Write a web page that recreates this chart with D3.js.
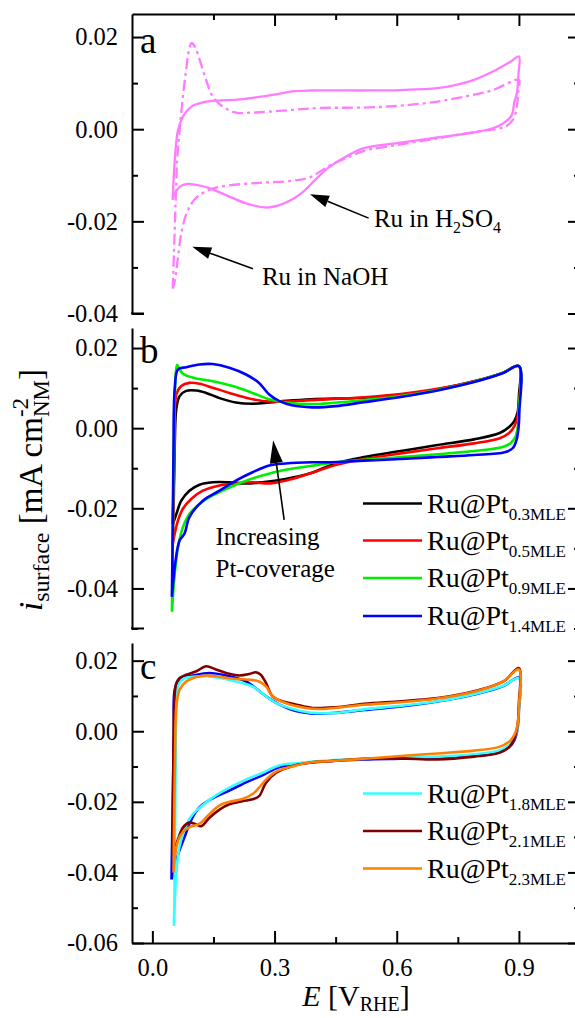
<!DOCTYPE html>
<html>
<head>
<meta charset="utf-8">
<script src="https://cdn.jsdelivr.net/npm/d3@7"></script>
<style>
  body { margin: 0; background: #fff; }
  svg { display: block; }
  .axis path, .axis line { stroke: #000; stroke-width: 2; }
</style>
</head>
<body>
<svg id="chart" width="575" height="1018"></svg>
<script>
// ---------- tick values ----------
const eMajor = [0, 0.3, 0.6, 0.9];
const eMinor = [0.15, 0.45, 0.75];
const eTopMajor = [0.3, 0.6, 0.9];
const iMajorA = [-0.04, -0.02, 0, 0.02];
const iMinorA = [-0.03, -0.01, 0.01];
const iMajorB = [-0.04, -0.02, 0, 0.02];
const iMinorB = [-0.05, -0.03, -0.01, 0.01];
const iMajorC = [-0.06, -0.04, -0.02, 0, 0.02];
const iMinorC = [-0.05, -0.03, -0.01, 0.01];

// ---------- (a) Ru CVs, [E / V_RHE, i / mA cm^-2] ----------
const ruH2SO4 = [
  [0.05,-0.0154],[0.055,-0.0067],[0.063,-0.0002],[0.075,0.0027],[0.096,0.0049],[0.124,0.0058],
  [0.157,0.0062],[0.209,0.0064],[0.254,0.0069],[0.299,0.0075],[0.344,0.0082],[0.39,0.0084],
  [0.52,0.0084],[0.61,0.0085],[0.70,0.0089],[0.746,0.0096],[0.79,0.0107],[0.836,0.0125],
  [0.88,0.0147],[0.9,0.0158],
  [0.899,0.012],[0.895,0.0078],[0.889,0.0060],[0.882,0.0030],[0.862,0.0013],[0.836,0.0002],
  [0.79,-0.0007],[0.70,-0.0018],[0.61,-0.0029],[0.52,-0.0041],[0.478,-0.0058],[0.433,-0.0083],
  [0.40,-0.0110],[0.37,-0.0136],[0.344,-0.0152],[0.308,-0.0166],[0.279,-0.0170],[0.23,-0.0161],
  [0.181,-0.0143],[0.14,-0.0128],[0.108,-0.0121],[0.083,-0.0119],[0.067,-0.0125],
  [0.055,-0.0139],[0.05,-0.0154]
];
const ruNaOH = [
  [0.05,-0.0346],[0.053,-0.0270],[0.057,-0.0161],[0.061,-0.0067],[0.067,-0.0002],[0.075,0.0071],
  [0.083,0.0129],[0.09,0.0172],[0.096,0.0187],[0.104,0.0180],[0.116,0.0151],[0.132,0.0107],
  [0.148,0.0071],[0.173,0.0049],[0.205,0.0036],[0.246,0.0036],[0.287,0.0038],[0.344,0.0042],
  [0.41,0.0046],[0.52,0.0047],[0.61,0.0051],[0.70,0.0060],[0.79,0.0075],[0.836,0.0085],[0.9,0.0107],
  [0.899,0.0085],[0.897,0.0064],[0.892,0.0035],[0.885,0.0020],[0.871,0.0008],[0.853,0.0002],
  [0.79,-0.0006],[0.70,-0.0020],[0.61,-0.0033],[0.52,-0.0047],[0.478,-0.0062],[0.433,-0.0080],
  [0.388,-0.0104],[0.344,-0.0112],[0.254,-0.0117],[0.165,-0.0125],[0.129,-0.0136],[0.102,-0.0154],
  [0.084,-0.0183],[0.071,-0.0226],[0.062,-0.0284],[0.055,-0.0330],[0.05,-0.0346]
];

// ---------- (b) Ru@Pt, low coverage ----------
const pt03 = [
  [0.05,-0.024],[0.052,-0.016],[0.054,-0.008],[0.055,-0.003],[0.059,0.005],[0.067,0.0080],
  [0.083,0.0093],[0.108,0.0094],[0.132,0.0088],[0.165,0.0075],[0.205,0.0064],[0.246,0.0061],
  [0.287,0.0064],[0.33,0.0068],[0.39,0.0072],[0.52,0.0076],[0.61,0.0083],[0.70,0.0097],
  [0.79,0.0117],[0.86,0.0138],[0.9,0.0155],
  [0.9,0.008],[0.897,0.004],[0.889,0.0018],[0.876,0.0003],[0.853,-0.0012],[0.79,-0.0028],
  [0.70,-0.0042],[0.61,-0.0057],[0.52,-0.0072],[0.45,-0.0088],[0.384,-0.0114],[0.327,-0.0127],
  [0.27,-0.0135],[0.23,-0.0138],[0.189,-0.0135],[0.148,-0.0135],[0.116,-0.0141],[0.091,-0.0156],
  [0.071,-0.0181],[0.059,-0.0214],[0.05,-0.024]
];
const pt05 = [
  [0.05,-0.029],[0.053,-0.016],[0.055,-0.004],[0.059,0.0084],[0.071,0.0105],[0.091,0.0113],
  [0.116,0.0111],[0.148,0.0101],[0.189,0.0088],[0.23,0.0076],[0.27,0.0068],[0.311,0.0066],
  [0.39,0.0070],[0.52,0.0077],[0.61,0.0085],[0.70,0.0098],[0.79,0.0117],[0.86,0.0138],[0.9,0.0155],
  [0.9,0.006],[0.897,0.003],[0.889,0.0005],[0.876,-0.0012],[0.853,-0.0025],[0.79,-0.0038],
  [0.70,-0.0050],[0.61,-0.0063],[0.52,-0.0077],[0.45,-0.0092],[0.384,-0.0114],[0.327,-0.0131],
  [0.287,-0.0138],[0.246,-0.0135],[0.205,-0.0138],[0.165,-0.0143],[0.124,-0.0156],[0.096,-0.0176],
  [0.075,-0.0201],[0.063,-0.023],[0.055,-0.0263],[0.05,-0.029]
];
const pt09 = [
  [0.048,-0.0458],[0.05,-0.030],[0.052,-0.010],[0.055,0.008],[0.061,0.0158],[0.066,0.0148],
  [0.075,0.0136],[0.10,0.0126],[0.148,0.0117],[0.197,0.0105],[0.246,0.0088],[0.287,0.0072],
  [0.327,0.0064],[0.392,0.0060],[0.52,0.0070],[0.61,0.0080],[0.70,0.0095],[0.79,0.0116],
  [0.86,0.0138],[0.9,0.0155],
  [0.9,0.005],[0.898,0.001],[0.892,-0.002],[0.88,-0.0037],[0.86,-0.0047],[0.79,-0.0057],
  [0.70,-0.0065],[0.61,-0.0072],[0.52,-0.0079],[0.43,-0.0088],[0.392,-0.0094],[0.327,-0.0104],
  [0.27,-0.0118],[0.23,-0.0131],[0.189,-0.0148],[0.148,-0.0168],[0.116,-0.0189],[0.091,-0.0214],
  [0.075,-0.0247],[0.063,-0.0297],[0.055,-0.0363],[0.048,-0.0458]
];
const pt14 = [
  [0.048,-0.0421],[0.05,-0.025],[0.052,-0.005],[0.055,0.010],[0.063,0.0147],[0.083,0.0152],
  [0.116,0.0159],[0.148,0.0160],[0.189,0.0151],[0.23,0.0134],[0.262,0.0113],[0.287,0.0084],
  [0.311,0.0068],[0.343,0.0057],[0.392,0.0052],[0.45,0.0055],[0.52,0.0065],[0.61,0.0078],
  [0.70,0.0094],[0.79,0.0115],[0.86,0.0137],[0.9,0.0155],
  [0.901,0.004],[0.899,0.0],[0.894,-0.003],[0.885,-0.0050],[0.865,-0.0060],[0.79,-0.0067],
  [0.70,-0.0072],[0.61,-0.0077],[0.52,-0.0081],[0.43,-0.0085],[0.392,-0.0085],[0.327,-0.0088],
  [0.287,-0.0093],[0.246,-0.0110],[0.205,-0.0131],[0.165,-0.0156],[0.124,-0.0181],[0.091,-0.0222],
  [0.079,-0.0263],[0.067,-0.0280],[0.057,-0.0330],[0.048,-0.0421]
];

// ---------- (c) Ru@Pt, high coverage ----------
const pt14c = [
  [0.047,-0.042],[0.05,-0.020],[0.053,0.0],[0.055,0.0118],[0.067,0.0148],[0.10,0.0158],
  [0.14,0.0165],[0.181,0.0158],[0.23,0.0141],[0.279,0.0099],[0.311,0.0076],[0.352,0.0057],
  [0.393,0.0050],[0.45,0.0052],[0.52,0.0060],[0.61,0.0070],[0.70,0.0084],[0.79,0.0104],
  [0.86,0.0127],[0.9,0.0152],
  [0.9,0.006],[0.897,0.001],[0.889,-0.0025],[0.876,-0.0045],[0.85,-0.0060],[0.79,-0.0070],
  [0.70,-0.0076],[0.61,-0.0078],[0.52,-0.0080],[0.43,-0.0085],[0.36,-0.0093],[0.311,-0.0102],
  [0.27,-0.0125],[0.23,-0.0145],[0.189,-0.0168],[0.148,-0.0190],[0.116,-0.0215],[0.096,-0.0250],
  [0.079,-0.0300],[0.063,-0.0350],[0.047,-0.042]
];
const pt18 = [
  [0.053,-0.0552],[0.055,-0.040],[0.057,-0.0118],[0.059,0.0071],[0.063,0.0127],[0.075,0.0148],
  [0.10,0.0154],[0.132,0.0156],[0.165,0.0151],[0.205,0.0141],[0.246,0.0127],[0.279,0.0099],
  [0.311,0.0076],[0.352,0.0061],[0.393,0.0052],[0.45,0.0052],[0.52,0.0062],[0.61,0.0072],
  [0.70,0.0085],[0.79,0.0105],[0.86,0.0128],[0.9,0.0150],
  [0.9,0.006],[0.897,0.001],[0.889,-0.002],[0.876,-0.004],[0.85,-0.0055],[0.79,-0.0065],
  [0.70,-0.0072],[0.61,-0.0075],[0.52,-0.0078],[0.43,-0.0083],[0.36,-0.0090],[0.311,-0.0097],
  [0.27,-0.0118],[0.23,-0.0137],[0.189,-0.0160],[0.148,-0.0188],[0.116,-0.0217],[0.096,-0.0240],
  [0.079,-0.0278],[0.067,-0.0325],[0.059,-0.0400],[0.053,-0.0552]
];
const pt21 = [
  [0.05,-0.035],[0.051,-0.015],[0.052,-0.002],[0.054,0.009],[0.059,0.0137],[0.067,0.0151],
  [0.083,0.0160],[0.108,0.0170],[0.132,0.0184],[0.156,0.0175],[0.181,0.0165],[0.213,0.0158],
  [0.238,0.0162],[0.254,0.0167],[0.266,0.0160],[0.279,0.0137],[0.295,0.0099],[0.319,0.0085],
  [0.352,0.0076],[0.393,0.0066],[0.45,0.0068],[0.52,0.0078],[0.61,0.0085],[0.70,0.0094],
  [0.79,0.0113],[0.862,0.0141],[0.9,0.0179],
  [0.9,0.008],[0.897,0.002],[0.889,-0.002],[0.876,-0.0045],[0.85,-0.0062],[0.79,-0.0072],
  [0.70,-0.0080],[0.61,-0.0077],[0.52,-0.0078],[0.433,-0.0085],[0.392,-0.0088],[0.343,-0.0099],
  [0.303,-0.0118],[0.279,-0.0146],[0.262,-0.0184],[0.246,-0.0193],[0.221,-0.0198],[0.189,-0.0207],
  [0.165,-0.0222],[0.14,-0.0245],[0.12,-0.0269],[0.108,-0.0264],[0.091,-0.0259],[0.075,-0.0273],
  [0.063,-0.0306],[0.055,-0.0335],[0.05,-0.035]
];
const pt23 = [
  [0.052,-0.040],[0.054,-0.020],[0.056,-0.004],[0.059,0.0071],[0.067,0.0118],[0.083,0.0141],
  [0.108,0.0154],[0.132,0.0158],[0.165,0.0154],[0.205,0.0148],[0.238,0.0146],[0.262,0.0141],
  [0.279,0.0127],[0.295,0.0099],[0.327,0.0080],[0.376,0.0066],[0.41,0.0063],[0.52,0.0075],
  [0.61,0.0082],[0.70,0.0093],[0.79,0.0112],[0.86,0.0140],[0.9,0.0175],
  [0.9,0.007],[0.897,0.002],[0.889,-0.001],[0.876,-0.003],[0.85,-0.0045],[0.79,-0.0055],
  [0.70,-0.0063],[0.61,-0.0070],[0.52,-0.0078],[0.43,-0.0085],[0.39,-0.0088],[0.343,-0.0100],
  [0.303,-0.0115],[0.279,-0.0137],[0.262,-0.0160],[0.246,-0.0178],[0.221,-0.0192],[0.189,-0.0200],
  [0.165,-0.0210],[0.14,-0.0235],[0.116,-0.0262],[0.091,-0.0272],[0.075,-0.0285],[0.063,-0.0310],
  [0.055,-0.0360],[0.052,-0.040]
];

// ---------- series / legend entries ----------
const seriesA = [
  { data: ruNaOH,  color: "#ff7bff", dash: "11,4,3,4" },
  { data: ruH2SO4, color: "#ff7bff", dash: null }
];
const seriesB = [
  { data: pt03, color: "#000000", sub: "0.3MLE" },
  { data: pt05, color: "#ff0000", sub: "0.5MLE" },
  { data: pt09, color: "#00ee00", sub: "0.9MLE" },
  { data: pt14, color: "#0000ff", sub: "1.4MLE" }
];
const seriesC = [
  { data: pt14c, color: "#0000ff", sub: null },
  { data: pt18,  color: "#33ffff", sub: "1.8MLE" },
  { data: pt21,  color: "#800000", sub: "2.1MLE" },
  { data: pt23,  color: "#ff8000", sub: "2.3MLE" }
];
const legendOrderC = [1, 2, 3];

// ---------- layout ----------
const svg = d3.select("#chart");
const FONT = '"Liberation Serif", "Times New Roman", serif';
const x = d3.scaleLinear().domain([-0.05, 1.05]).range([132, 580]);

const panels = [
  { letter: "a", top: 14,  bottom: 313.5, domain: [-0.04, 0.025], major: iMajorA, minor: iMinorA, letterY: 53 },
  { letter: "b", top: 328, bottom: 628.5, domain: [-0.05, 0.025], major: iMajorB, minor: iMinorB, letterY: 363 },
  { letter: "c", top: 643, bottom: 943,   domain: [-0.06, 0.025], major: iMajorC, minor: iMinorC, letterY: 679 }
];
panels.forEach(p => { p.y = d3.scaleLinear().domain(p.domain).range([p.bottom, p.top]); });

const fmtI = d => d3.format(".2f")(d).replace("\u2212", "-");
const fmtE = d => d3.format(".1f")(d);

function styleTicks(g) {
  g.attr("font-family", null).attr("font-size", null);
  g.selectAll("text")
    .attr("font-family", FONT).style("font-family", FONT)
    .style("font-size", "24.5px").attr("fill", "#000");
}

// lay out runs of text (with sub/superscripts) along a baseline
function richText(parent, runs, anchor) {
  const g = parent.append("g");
  let cx = 0;
  runs.forEach(r => {
    const parts = r.stack ? r.stack : [r];
    let wMax = 0;
    parts.forEach(part => {
      const t = g.append("text")
        .attr("x", cx).attr("y", part.dy || 0)
        .attr("font-family", FONT).style("font-family", FONT)
        .style("font-size", part.size + "px")
        .style("font-style", part.italic ? "italic" : "normal")
        .style("white-space", "pre")
        .attr("fill", "#000")
        .text(part.text);
      wMax = Math.max(wMax, t.node().getComputedTextLength());
    });
    cx += wMax;
  });
  const shift = anchor === "middle" ? -cx / 2 : anchor === "end" ? -cx : 0;
  g.selectAll("text").attr("x", function () { return +d3.select(this).attr("x") + shift; });
  return g;
}

const line = y => d3.line()
  .x(d => x(d[0])).y(d => y(d[1]))
  .curve(d3.curveCatmullRom.alpha(0.5));

function drawAxes(p, i) {
  // left axis with labels
  svg.append("g").attr("class", "axis").attr("transform", `translate(${x.range()[0]},0)`)
    .call(d3.axisLeft(p.y).tickValues(p.major).tickSize(-12).tickSizeOuter(0).tickPadding(14).tickFormat(fmtI))
    .call(styleTicks);
  svg.append("g").attr("class", "axis").attr("transform", `translate(${x.range()[0]},0)`)
    .call(d3.axisLeft(p.y).tickValues(p.minor).tickSize(-6).tickSizeOuter(0).tickFormat(""))
    .select(".domain").remove();
  // right axis, ticks only
  svg.append("g").attr("class", "axis").attr("transform", `translate(${x.range()[1]},0)`)
    .call(d3.axisRight(p.y).tickValues(p.major).tickSize(-12).tickSizeOuter(0).tickFormat(""));
  svg.append("g").attr("class", "axis").attr("transform", `translate(${x.range()[1]},0)`)
    .call(d3.axisRight(p.y).tickValues(p.minor).tickSize(-6).tickSizeOuter(0).tickFormat(""))
    .select(".domain").remove();
  if (i < 2) {
    // short stub closing the lower end of the left axis
    svg.append("line").attr("x1", x.range()[0] - 1).attr("x2", x.range()[0] + 12)
      .attr("y1", p.bottom).attr("y2", p.bottom).attr("stroke", "#000").attr("stroke-width", 2);
  }
  // panel letter
  svg.append("text").attr("x", 140).attr("y", p.letterY)
    .attr("font-family", FONT).style("font-family", FONT).style("font-size", "37px").text(p.letter);
}

panels.forEach(drawAxes);

// top axis of panel a
svg.append("g").attr("class", "axis").attr("transform", `translate(0,${panels[0].top})`)
  .call(d3.axisTop(x).tickValues(eTopMajor).tickSize(-12).tickSizeOuter(0).tickFormat(""));
svg.append("g").attr("class", "axis").attr("transform", `translate(0,${panels[0].top})`)
  .call(d3.axisTop(x).tickValues(eMinor).tickSize(-6).tickSizeOuter(0).tickFormat(""))
  .select(".domain").remove();
// bottom axis of panel c
svg.append("g").attr("class", "axis").attr("transform", `translate(0,${panels[2].bottom})`)
  .call(d3.axisBottom(x).tickValues(eMajor).tickSize(-12).tickSizeOuter(0).tickPadding(16).tickFormat(fmtE))
  .call(styleTicks);
svg.append("g").attr("class", "axis").attr("transform", `translate(0,${panels[2].bottom})`)
  .call(d3.axisBottom(x).tickValues(eMinor).tickSize(-6).tickSizeOuter(0).tickFormat(""))
  .select(".domain").remove();

// ---------- curves ----------
function drawSeries(p, list, width) {
  const gen = line(p.y);
  list.forEach(s => {
    svg.append("path").datum(s.data)
      .attr("d", gen).attr("fill", "none")
      .attr("stroke", s.color).attr("stroke-width", width)
      .attr("stroke-linejoin", "round")
      .attr("stroke-dasharray", s.dash || null);
  });
}
drawSeries(panels[0], seriesA, 2.3);
drawSeries(panels[1], seriesB, 2.6);
drawSeries(panels[2], seriesC, 2.6);

// ---------- arrows & annotations ----------
function arrow(p, from, to, headLen, headHalf) {
  const x1 = x(from[0]), y1 = p.y(from[1]), x2 = x(to[0]), y2 = p.y(to[1]);
  const a = Math.atan2(y2 - y1, x2 - x1);
  const bx = x2 - headLen * Math.cos(a), by = y2 - headLen * Math.sin(a);
  svg.append("line").attr("x1", x1).attr("y1", y1).attr("x2", bx).attr("y2", by)
    .attr("stroke", "#000").attr("stroke-width", 1.6);
  const nx = -Math.sin(a) * headHalf, ny = Math.cos(a) * headHalf;
  svg.append("path")
    .attr("d", `M${x2},${y2}L${bx + nx},${by + ny}L${bx - nx},${by - ny}Z`)
    .attr("fill", "#000");
}
const pa = panels[0], pb = panels[1], pc = panels[2];

arrow(pa, [0.531, -0.0193], [0.387, -0.0141], 19, 6);
richText(svg.append("g").attr("transform", `translate(${x(0.544)},${pa.y(-0.0212)})`), [
  { text: "Ru in H", size: 25 }, { text: "2", size: 16, dy: 6 },
  { text: "SO", size: 25 }, { text: "4", size: 16, dy: 6 }
], "start");

arrow(pa, [0.247, -0.0303], [0.098, -0.0255], 19, 6);
richText(svg.append("g").attr("transform", `translate(${x(0.269)},${pa.y(-0.0338)})`), [
  { text: "Ru in NaOH", size: 25 }
], "start");

arrow(pb, [0.3236, -0.0229], [0.2966, -0.0030], 23, 6.5);
richText(svg.append("g").attr("transform", `translate(${x(0.155)},${pb.y(-0.0292)})`), [
  { text: "Increasing", size: 25 }
], "start");
richText(svg.append("g").attr("transform", `translate(${x(0.155)},${pb.y(-0.0371)})`), [
  { text: "Pt-coverage", size: 25 }
], "start");

// ---------- legends ----------
function legend(entries, rowYs) {
  entries.forEach((s, k) => {
    const yy = rowYs[k];
    svg.append("line").attr("x1", 363).attr("x2", 422).attr("y1", yy).attr("y2", yy)
      .attr("stroke", s.color).attr("stroke-width", 2.6);
    richText(svg.append("g").attr("transform", `translate(427,${yy + 9})`), [
      { text: "Ru@Pt", size: 28 }, { text: s.sub, size: 17, dy: 7 }
    ], "start");
  });
}
legend(seriesB, [503.5, 540.5, 578, 616]);
legend(legendOrderC.map(k => seriesC[k]), [793.5, 831, 868.5]);

// ---------- axis titles ----------
richText(svg.append("g").attr("transform", `translate(${(x.range()[0] + x.range()[1]) / 2},1006)`), [
  { text: "E", size: 30, italic: true }, { text: "\u00a0[V", size: 30 },
  { text: "RHE", size: 20, dy: 5 }, { text: "]", size: 30 }
], "middle");

richText(svg.append("g").attr("transform", "translate(42,490) rotate(-90)"), [
  { text: "i", size: 33, italic: true }, { text: "surface", size: 24, dy: 7 },
  { text: "\u00a0[mA cm", size: 33 },
  { stack: [{ text: "-2", size: 23, dy: -14 }, { text: "NM", size: 23, dy: 7 }] },
  { text: "]", size: 33 }
], "middle");
</script>
</body>
</html>
